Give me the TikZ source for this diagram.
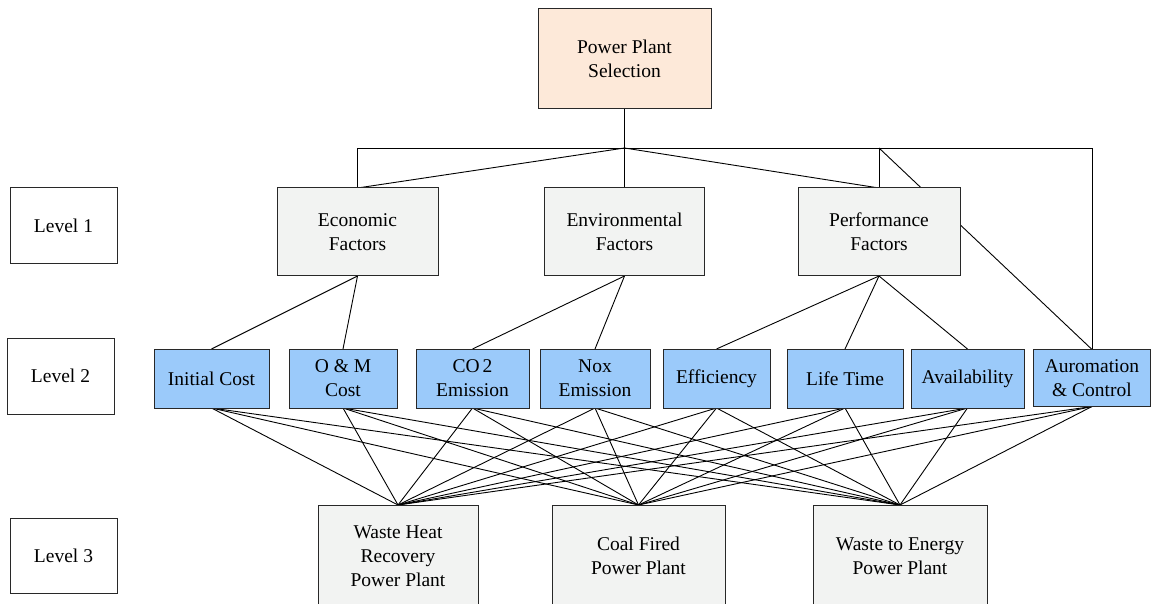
\documentclass[tikz,border=0pt]{standalone}
\usepackage{fontspec}
\setmainfont{Liberation Serif}
\usetikzlibrary{backgrounds}
\definecolor{peach}{RGB}{253,233,217}
\definecolor{lgray}{RGB}{242,243,242}
\definecolor{lblue}{RGB}{155,202,250}
\definecolor{bord}{RGB}{40,40,40}
\tikzset{
  base/.style={draw=bord, line width=1pt, inner sep=0pt, outer sep=0pt, align=center,
    font=\fontsize{19.5}{24}\selectfont},
  topbox/.style={base, fill=peach},
  grey/.style={base, fill=lgray},
  blue/.style={base, fill=lblue, minimum height=59pt},
  lvl/.style={base, fill=white},
  conn/.style={draw=black, line width=0.9pt},
}
\begin{document}
\begin{tikzpicture}[x=1pt,y=-1pt]
\useasboundingbox (0,0) rectangle (1152,604);
\clip (0,0) rectangle (1152,604);
% top
\node[topbox, minimum width=173pt, minimum height=100pt] (top) at (624.5,59) {Power Plant\\Selection};
% level labels
\node[lvl, minimum width=107pt, minimum height=76pt] (l1) at (63.5,226) {Level 1};
\node[lvl, minimum width=107pt, minimum height=76pt] (l2) at (60.5,376) {Level 2};
\node[lvl, minimum width=107pt, minimum height=75pt] (l3) at (63.5,555.5) {Level 3};
% level 1
\node[grey, minimum width=161pt, minimum height=88pt] (econ) at (357.5,232) {Economic\\Factors};
\node[grey, minimum width=160pt, minimum height=88pt] (env) at (624.5,232) {Environmental\\Factors};
\node[grey, minimum width=162pt, minimum height=88pt] (perf) at (879,232) {Performance\\Factors};
% level 2
\node[blue, minimum width=115pt] (init) at (211.5,378.5) {Initial Cost};
\node[blue, minimum width=108pt] (om) at (343,378.5) {O \& M\\Cost};
\node[blue, minimum width=113pt] (co2) at (472.5,378.5) {CO\kern3pt2\\Emission};
\node[blue, minimum width=110pt] (nox) at (595,378.5) {Nox\\Emission};
\node[blue, minimum width=107pt] (eff) at (716.5,378.5) {Efficiency};
\node[blue, minimum width=116pt] (life) at (845,378.5) {Life Time};
\node[blue, minimum width=113pt] (avail) at (967.5,378.5) {Availability};
\node[blue, minimum width=117pt, minimum height=57pt] (auro) at (1092,378) {Auromation\\\& Control};
% level 3
\node[grey, minimum width=160pt, minimum height=102pt] (whr) at (398,556) {Waste Heat\\Recovery\\Power Plant};
\node[grey, minimum width=173pt, minimum height=102pt] (coal) at (638.5,556) {Coal Fired\\Power Plant};
\node[grey, minimum width=174pt, minimum height=102pt] (wte) at (900,556) {Waste to Energy\\Power Plant};
% connectors
\coordinate (J) at (624.5,148);
\coordinate (JE) at (econ.north |- J);
\coordinate (JP) at (perf.north |- J);
\coordinate (JA) at (auro.north |- J);
\begin{pgfonlayer}{background}
\fill[white] (0,0) rectangle (1152,604);
\draw[conn] (top.south) -- (J);
\draw[conn] (J) -- (econ.north);
\draw[conn] (J) -- (env.north);
\draw[conn] (J) -- (perf.north);
\draw[conn] (econ.north) -- (JE) -- (JA) -- (auro.north);
\draw[conn] (JP) -- (perf.north);
\draw[conn] (JP) -- (auro.north);
\draw[conn] (econ.south) -- (init.north);
\draw[conn] (econ.south) -- (om.north);
\draw[conn] (env.south) -- (co2.north);
\draw[conn] (env.south) -- (nox.north);
\draw[conn] (perf.south) -- (eff.north);
\draw[conn] (perf.south) -- (life.north);
\draw[conn] (perf.south) -- (avail.north);
\foreach \a in {init,om,co2,nox,eff,life,avail,auro}{
  \foreach \b in {whr,coal,wte}{
    \draw[conn] (\a.south) -- (\b.north);
  }
}
\end{pgfonlayer}
\end{tikzpicture}
\end{document}
